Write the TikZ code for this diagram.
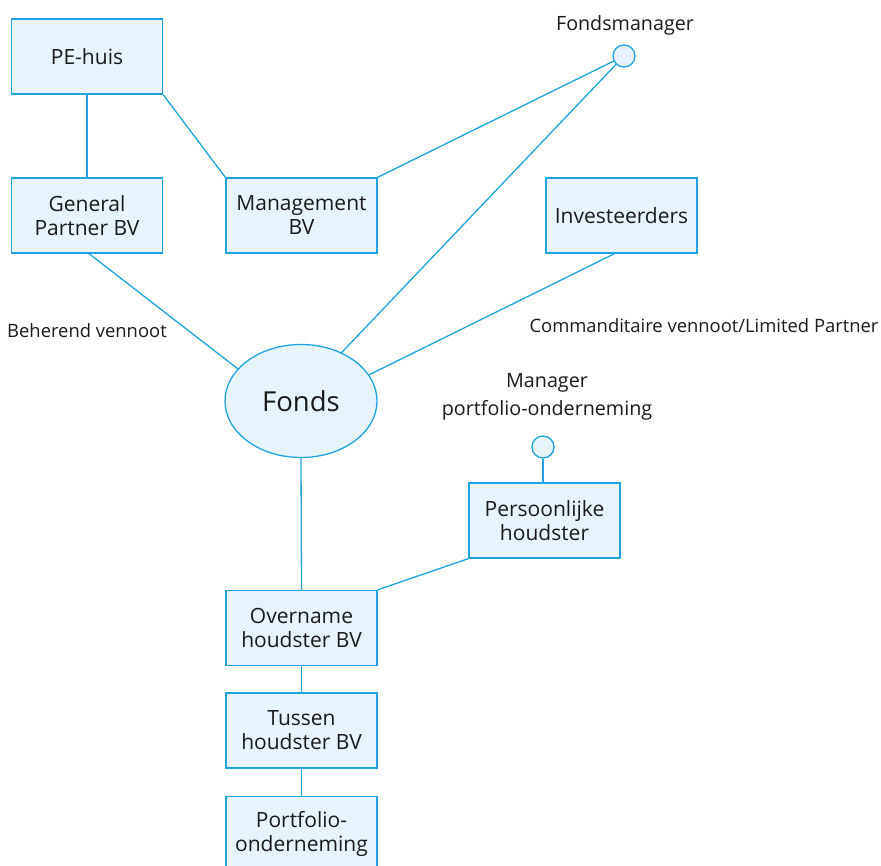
\documentclass[tikz,border=0pt]{standalone}
\usepackage{fontspec}
\setmainfont{Open Sans}
\usetikzlibrary{shapes.geometric}
\definecolor{lineblue}{HTML}{1FA3E0}
\definecolor{fillblue}{HTML}{E8F4FC}
\definecolor{txt}{HTML}{1A1A1A}
\begin{document}
\begin{tikzpicture}[x=1pt,y=-1pt,
  box/.style={draw=lineblue, fill=fillblue, line width=1.3pt,
    minimum width=151pt, minimum height=75pt, inner sep=0pt,
    align=center, text=txt, font=\fontsize{21}{24}\selectfont},
  person/.style={circle, draw=lineblue, fill=fillblue, line width=1.3pt,
    minimum size=22pt, inner sep=0pt},
  fund/.style={ellipse, draw=lineblue, fill=fillblue, line width=1.3pt,
    minimum width=152pt, minimum height=113pt, inner sep=0pt,
    text=txt, font=\fontsize{27.5}{32}\selectfont},
  lbl/.style={align=center, text=txt, inner sep=0pt, font=\fontsize{19.7}{28}\selectfont},
  small/.style={align=center, text=txt, inner sep=0pt, font=\fontsize{18.4}{20}\selectfont},
  link/.style={draw=lineblue, line width=1.3pt}]
\useasboundingbox (0,0) rectangle (881,866);

% boxes
\node[box] (pe) at (87,56.5) {PE-huis};
\node[box] (gp) at (87,215.5) {General\\Partner BV};
\node[box] (mg) at (301.5,215.5) {Management\\BV};
\node[box] (inv) at (621.5,215.5) {Investeerders};
\node[box] (ph) at (544.5,520.5) {Persoonlijke\\houdster};
\node[box] (ov) at (301.5,628) {Overname\\houdster BV};
\node[box] (tu) at (301.5,730.5) {Tussen\\houdster BV};
\node[box] (po) at (301.5,834) {Portfolio-\\onderneming};

% fund
\node[fund] (fo) at (301,401) {Fonds};

% persons
\node[person] (fm) at (624,56) {};
\node[person] (mp) at (543,447) {};

% labels
\node[lbl] (fmlbl) at (625,25) {Fondsmanager};
\node[lbl] (mplbl) at (547,397) {Manager\\portfolio-onderneming};
\node[small] (beh) at (87,331) {Beherend vennoot};
\node[small] (com) at (704,326) {Commanditaire vennoot/Limited Partner};

% connectors
\draw[link] (pe.south) -- (gp.north);
\draw[link] (pe.south east) -- (mg.north west);
\draw[link] (mg.north east) -- (fm);
\draw[link] (fm) -- (fo.50);
\draw[link] ([xshift=2pt]gp.south) -- (fo.153);
\draw[link] ([xshift=-7pt]inv.south) -- (fo.21);
\draw[link] (fo.south) -- (ov.north);
\draw[link] (mp) -- (ph.north -| mp);
\draw[link] (ph.south west) -- (ov.north east);
\draw[link] (ov.south) -- (tu.north);
\draw[link] (tu.south) -- (po.north);
\end{tikzpicture}
\end{document}
